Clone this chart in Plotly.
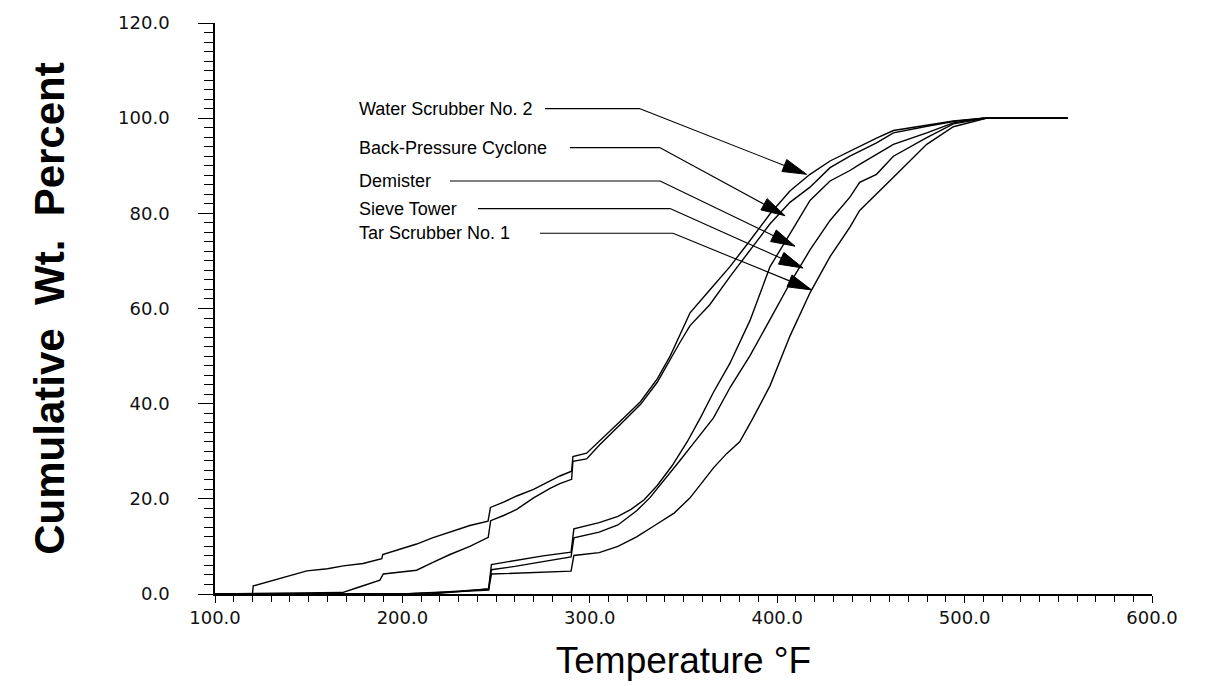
import math
import plotly.graph_objects as go

# ---- data (temperature degF, cumulative wt %) ----
water_T = [100, 120, 120.4, 130, 140, 149, 160, 168.5, 179, 189, 189.5, 198, 207.6, 216, 225.4, 236, 245.7, 247,
           254, 261, 270, 279, 284, 290.3, 291, 298.3, 305.4, 316, 327, 336, 343, 348, 353.5, 364, 374.8, 385.5,
           396.2, 406.8, 417.5, 428.2, 438.8, 453, 462, 480, 494, 510, 555]
water_V = [0, 0, 1.7, 2.8, 3.95, 4.85, 5.3, 5.9, 6.4, 7.4, 8.3, 9.3, 10.5, 11.8, 13.0, 14.4, 15.3, 18.2,
           19.3, 20.6, 22.0, 23.9, 24.8, 25.8, 28.9, 29.6, 32.2, 36.2, 40.4, 45.2, 50.1, 54.3, 59.1, 63.9, 68.8, 74.3,
           79.9, 84.7, 88.2, 91.0, 93.1, 95.8, 97.4, 98.6, 99.4, 100, 100]

bpc_T = [100, 168, 175, 188, 189.8, 198, 207.6, 216, 225.4, 236, 245.8, 247.1, 254, 261, 270, 278.8, 284, 290.3,
         291, 298.3, 305.4, 316, 327, 336, 343, 348, 353.5, 364, 374.8, 385.5, 396.2, 406.8, 417.5, 428.2, 438.8,
         453, 462, 480, 494, 510, 555]
bpc_V = [0, 0.3, 1.2, 2.9, 4.2, 4.6, 5.0, 6.6, 8.3, 10.0, 11.9, 15.4, 16.5, 17.8, 20.2, 22.2, 23.2, 24.1,
         27.9, 28.4, 31.4, 35.5, 39.8, 44.5, 49.5, 52.8, 56.4, 60.8, 66.7, 72.3, 77.8, 82.3, 85.5, 89.6, 92.0,
         94.8, 96.9, 98.3, 99.3, 100, 100]

demister_T = [100, 215, 230, 246, 247.5, 260, 275, 290, 291.5, 305, 315, 322, 329, 336, 344, 352, 359, 366, 374.8,
              385.5, 396.2, 406.8, 417.5, 428.2, 438.8, 444, 462, 479.8, 494, 510, 555]
demister_V = [0, 0, 0.5, 1.1, 6.2, 7.0, 8.0, 8.8, 13.7, 15.0, 16.3, 17.8, 19.8, 22.8, 27.0, 32.0, 37.0, 42.4, 48.5,
              57.5, 68.8, 75.7, 82.7, 86.8, 89.0, 90.3, 94.5, 96.9, 99.0, 100, 100]

sieve_T = [100, 200, 225, 246, 247.5, 260, 275, 290, 291.5, 305, 315, 325, 332, 340, 348, 355, 366, 375, 385.5,
           396.2, 406.8, 417.5, 428.2, 438.8, 444, 453, 462, 479.8, 494, 512, 555]
sieve_V = [0, 0, 0.5, 1.0, 5.1, 5.8, 6.8, 7.8, 11.8, 13.0, 14.5, 17.5, 20.2, 24.0, 28.0, 31.5, 37.0, 43.5, 50.1,
           57.7, 65.3, 72.3, 78.5, 83.4, 86.5, 88.2, 92.0, 95.9, 98.8, 100, 100]

tar_T = [100, 200, 225, 246, 247.5, 260, 275, 290, 291.5, 305, 315, 325, 335, 345, 353.5, 360, 366, 373, 380, 387,
         396.2, 406.8, 417.5, 428.2, 438.8, 444, 449.5, 460, 479.8, 494, 512, 555]
tar_V = [0, 0, 0.4, 0.8, 4.2, 4.4, 4.6, 4.8, 8.1, 8.7, 10.0, 12.0, 14.5, 17.0, 20.2, 23.5, 26.5, 29.5, 32.0, 36.9,
         43.8, 54.2, 63.3, 70.9, 77.1, 80.6, 82.7, 86.8, 94.5, 98.2, 100, 100]

series_names = ["Water Scrubber No. 2", "Back-Pressure Cyclone", "Demister", "Sieve Tower", "Tar Scrubber No. 1"]
series_T = [water_T, bpc_T, demister_T, sieve_T, tar_T]
series_V = [water_V, bpc_V, demister_V, sieve_V, tar_V]

# label callouts: text position, leader start, bend, arrow tip (data coords)
label_x = 175.8
label_y = [102.0, 93.8, 86.8, 81.0, 75.8]
leader_start = [276.1, 289.4, 225.4, 240.3, 273.4]
leader_bend = [326.8, 337.5, 337.5, 342.8, 344.4]
tip_T = [415.7, 404.2, 409.5, 413.8, 418.4]
tip_V = [88.2, 79.5, 73.1, 68.5, 63.9]

x_ticks = [100, 200, 300, 400, 500, 600]
y_ticks = [0, 20, 40, 60, 80, 100, 120]

# figure geometry
W, H = 1205, 686
ML, MR, MT, MB = 215, 53, 17, 92
XR, YR = (100, 600), (0, 120)
sx = (W - ML - MR) / (XR[1] - XR[0])
sy = (H - MT - MB) / (YR[1] - YR[0])


def to_px(t, v):
    return ML + (t - XR[0]) * sx, H - MB - (v - YR[0]) * sy


def to_data(px, py):
    return XR[0] + (px - ML) / sx, YR[0] + (H - MB - py) / sy


fig = go.Figure()
for name, T, V in zip(series_names, series_T, series_V):
    fig.add_trace(go.Scatter(x=T, y=V, mode="lines", name=name,
                             line=dict(color="black", width=1.4), showlegend=False))

shapes = []
annotations = []
HEAD_LEN, HEAD_HALF = 24, 6.5
for i, name in enumerate(series_names):
    annotations.append(dict(x=label_x, y=label_y[i], xref="x", yref="y", text=name, showarrow=False,
                            xanchor="left", yanchor="middle",
                            font=dict(family="Liberation Sans, Arial, sans-serif", size=18, color="black")))
    shapes.append(dict(type="line", xref="x", yref="y", x0=leader_start[i], x1=leader_bend[i],
                       y0=label_y[i], y1=label_y[i], line=dict(color="black", width=1.1)))
    bx, by = to_px(leader_bend[i], label_y[i])
    tx, ty = to_px(tip_T[i], tip_V[i])
    L = math.hypot(tx - bx, ty - by)
    dx, dy = (tx - bx) / L, (ty - by) / L
    nx, ny = -dy, dx
    basex, basey = tx - HEAD_LEN * dx, ty - HEAD_LEN * dy
    b_t, b_v = to_data(basex, basey)
    shapes.append(dict(type="line", xref="x", yref="y", x0=leader_bend[i], y0=label_y[i], x1=b_t, y1=b_v,
                       line=dict(color="black", width=1.1)))
    p1 = to_data(basex + HEAD_HALF * nx, basey + HEAD_HALF * ny)
    p2 = to_data(basex - HEAD_HALF * nx, basey - HEAD_HALF * ny)
    path = f"M {tip_T[i]},{tip_V[i]} L {p1[0]},{p1[1]} L {p2[0]},{p2[1]} Z"
    shapes.append(dict(type="path", xref="x", yref="y", path=path, fillcolor="black",
                       line=dict(color="black", width=1)))

tick_font = dict(family="DejaVu Sans, sans-serif", size=18, color="#111")

fig.update_layout(
    width=W, height=H,
    margin=dict(l=ML, r=MR, t=MT, b=MB),
    paper_bgcolor="white", plot_bgcolor="white",
    shapes=shapes, annotations=annotations,
    xaxis=dict(range=list(XR), tickvals=x_ticks, ticktext=[f"{v:.1f}" for v in x_ticks],
               showgrid=False, zeroline=False, showline=True, linecolor="black", linewidth=1.5,
               ticks="outside", ticklen=7, tickwidth=1.3, tickcolor="black", tickfont=tick_font,
               minor=dict(dtick=10, ticks="outside", ticklen=6, tickwidth=1.2, tickcolor="black"),
               title=dict(text="Temperature °F", standoff=20,
                          font=dict(family="Liberation Sans Narrow, Arial Narrow, Liberation Sans, sans-serif",
                                    size=37, color="black"))),
    yaxis=dict(range=list(YR), tickvals=y_ticks, ticktext=[f"{v:.1f}" for v in y_ticks],
               showgrid=False, zeroline=False, showline=True, linecolor="black", linewidth=1.5,
               ticks="outside", ticklen=15, tickwidth=1.3, tickcolor="black", tickfont=tick_font,
               ticklabelstandoff=25,
               minor=dict(dtick=2, ticks="outside", ticklen=9, tickwidth=1.1, tickcolor="black"),
               title=dict(text="<b>Cumulative  Wt.  Percent</b>", standoff=40,
                          font=dict(family="Liberation Sans, Arial, sans-serif", size=42, color="black"))),
)

fig.write_html("out.html")
